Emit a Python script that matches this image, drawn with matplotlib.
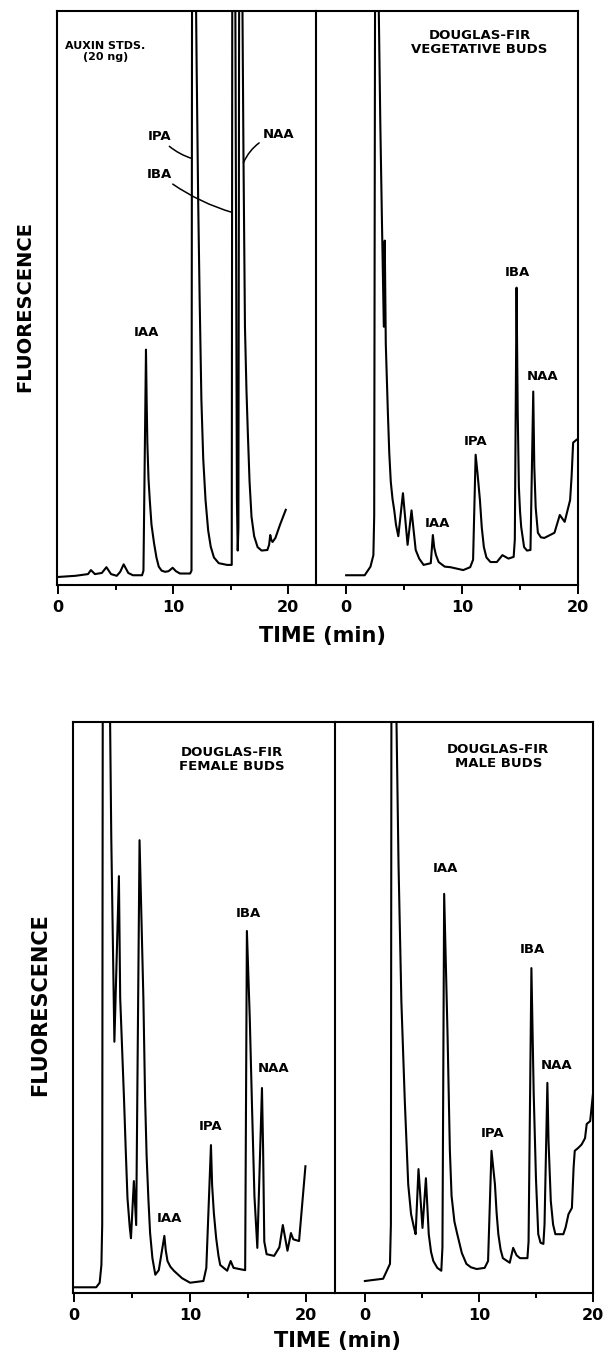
import matplotlib.pyplot as plt

# HPLC fluorescence traces.
# time in min, signal in % of recorder full scale (values > 100 ran off the chart)

std_time = [0.0, 1.5, 2.6, 2.85, 3.2, 3.8, 4.2, 4.6, 5.1, 5.4,
            5.7, 6.1, 6.5, 7.3, 7.42, 7.64, 7.7, 7.76, 7.86, 7.97,
            8.12, 8.34, 8.55, 8.75, 9.0, 9.3, 9.6, 9.96, 10.25, 10.6,
            11.48, 11.6, 11.65, 11.95, 12.05, 12.18, 12.31, 12.46, 12.62, 12.82,
            13.05, 13.27, 13.55, 13.97, 14.7, 15.1, 15.15, 15.4, 15.55, 15.62,
            15.68, 15.75, 16.0, 16.12, 16.25, 16.38, 16.5, 16.65, 16.82, 17.05,
            17.35, 17.7, 18.2, 18.35, 18.45, 18.55, 18.65, 18.9, 19.3, 19.8]
std_signal = [1.4, 1.6, 1.9, 2.6, 1.9, 2.1, 3.1, 1.9, 1.6, 2.3,
              3.6, 2.1, 1.7, 1.7, 2.5, 41, 32, 24.7, 18.5, 14.8,
              10.5, 7.3, 4.8, 3.2, 2.5, 2.3, 2.4, 3.0, 2.4, 2.0,
              2.0, 2.5, 110, 110, 90, 67, 49.7, 32.3, 22, 14.8,
              9.5, 6.7, 4.8, 3.8, 3.5, 3.5, 110, 110, 15, 6,
              10, 110, 110, 75, 45, 34, 26.5, 18, 11.9, 8.5,
              6.6, 6.0, 6.1, 7.0, 8.7, 7.8, 7.5, 8.2, 10.5, 13.1]

veg_time = [0.0, 1.6, 2.1, 2.35, 2.42, 2.5, 2.75, 2.95, 3.1, 3.25,
            3.33, 3.42, 3.6, 3.72, 3.85, 4.0, 4.15, 4.3, 4.5, 4.9,
            5.3, 5.64, 6.0, 6.3, 6.68, 7.3, 7.48, 7.6, 7.75, 7.98,
            8.5, 9.0, 10.1, 10.7, 10.95, 11.17, 11.33, 11.54, 11.7, 11.88,
            12.1, 12.45, 13.0, 13.48, 14.0, 14.45, 14.55, 14.7, 14.8, 14.9,
            15.0, 15.1, 15.35, 15.6, 15.9, 16.14, 16.23, 16.35, 16.54, 16.8,
            17.1, 17.97, 18.43, 18.85, 19.32, 19.45, 19.58, 19.87]
veg_signal = [1.7, 1.7, 3.2, 5.2, 12, 110, 110, 80, 62, 45,
              60, 42, 30, 23, 18, 15, 13, 10.5, 8.5, 16,
              7, 13, 6.1, 4.6, 3.5, 3.8, 8.7, 6.5, 5.2, 4.0,
              3.2, 3.1, 2.6, 3.1, 4.4, 22.7, 19.5, 14.8, 10, 6.6,
              4.8, 4.0, 4.0, 5.2, 4.6, 4.9, 7.9, 51.8, 30, 17.1,
              12.8, 10.1, 6.6, 6.0, 6.1, 33.7, 20.6, 13.5, 9.1, 8.3,
              8.2, 9.1, 12.2, 11.0, 14.8, 19, 24.8, 25.3]

female_time = [0.0, 1.9, 2.2, 2.35, 2.42, 2.47, 3.05, 3.2, 3.47, 3.86,
               3.97, 4.3, 4.45, 4.6, 4.8, 4.9, 5.15, 5.35, 5.64, 5.97,
               6.12, 6.25, 6.4, 6.55, 6.75, 7.0, 7.3, 7.78, 7.9, 8.05,
               8.3, 8.6, 9.3, 10.0, 11.15, 11.4, 11.8, 11.9, 12.05, 12.25,
               12.45, 12.6, 13.2, 13.5, 13.75, 14.75, 14.9, 15.15, 15.35, 15.55,
               15.8, 16.2, 16.3, 16.4, 16.6, 17.25, 17.7, 18.0, 18.4, 18.7,
               18.9, 19.4, 19.95]
female_signal = [1.0, 1.0, 1.8, 4.9, 12, 110, 110, 80, 44, 73,
                 51.7, 34, 25, 16.6, 11.4, 9.6, 19.6, 11.9, 79.3, 51.7,
                 34, 24, 16.6, 10.5, 6.1, 3.2, 4.0, 10, 7.5, 5.6,
                 4.6, 3.9, 2.6, 1.8, 2.1, 4.4, 25.9, 18.9, 14, 9.6,
                 6.5, 4.9, 3.9, 5.6, 4.4, 4.0, 63.4, 48, 32, 17,
                 7.9, 35.9, 25, 9, 6.8, 6.5, 8, 11.9, 7.4, 10.5,
                 9.4, 9.1, 22.2]

male_time = [0.0, 1.6, 2.2, 2.28, 2.33, 2.7, 2.95, 3.2, 3.5, 3.8,
             4.05, 4.3, 4.45, 4.7, 5.05, 5.35, 5.6, 5.8, 6.0, 6.35,
             6.7, 6.8, 6.95, 7.25, 7.45, 7.6, 7.85, 8.1, 8.5, 8.9,
             9.3, 9.8, 10.5, 10.8, 11.1, 11.4, 11.55, 11.7, 11.9, 12.1,
             12.7, 13.0, 13.3, 13.6, 14.25, 14.35, 14.6, 14.8, 15.0, 15.2,
             15.4, 15.65, 15.75, 16.0, 16.1, 16.3, 16.5, 16.7, 17.4, 17.6,
             17.85, 18.15, 18.3, 18.4, 18.7, 19.0, 19.3, 19.45, 19.75, 20.0]
male_signal = [2.1, 2.5, 5.1, 12, 110, 110, 75, 51, 33.6, 19,
               13.8, 11.5, 10.3, 21.7, 11.4, 20.1, 10.3, 7.2, 5.6, 4.4,
               3.9, 8, 69.9, 45, 25, 17, 12.5, 10.3, 7, 5.1,
               4.5, 4.2, 4.4, 5.6, 24.9, 19.1, 14, 10.3, 7.6, 6.1,
               5.3, 7.9, 6.6, 6.1, 6.1, 9, 56.9, 35, 20, 10.3,
               8.8, 8.6, 12, 36.8, 26.6, 16.1, 12, 10.3, 10.3, 11.5,
               13.8, 14.9, 22, 24.9, 25.4, 26, 27.1, 29.6, 30.1, 34.9]

panel_titles = ["AUXIN STDS.\n(20 ng)", "DOUGLAS-FIR\nVEGETATIVE BUDS",
                "DOUGLAS-FIR\nFEMALE BUDS", "DOUGLAS-FIR\nMALE BUDS"]
time_ticks = [0, 10, 20]
time_minor = [5, 15]

plt.rcParams["font.family"] = ["DejaVu Sans"]
plt.rcParams["font.weight"] = "bold"

W, H = 612, 1360
fig = plt.figure(figsize=(W / 100, H / 100), dpi=100)


def panel(x0, x1, y0, y1, xlim):
    ax = fig.add_axes([x0 / W, 1 - y1 / H, (x1 - x0) / W, (y1 - y0) / H])
    ax.set_xlim(*xlim)
    ax.set_ylim(0, 100)
    ax.set_yticks([])
    ax.set_xticks(time_ticks)
    ax.set_xticks(time_minor, minor=True)
    ax.tick_params(axis="x", which="major", direction="out", length=6.5,
                   width=1.4, pad=4, labelsize=11.5)
    ax.tick_params(axis="x", which="minor", direction="out", length=3.5, width=1.4)
    for s in ax.spines.values():
        s.set_linewidth(1.5)
    return ax


def trace(ax, t, y):
    ax.plot(t, y, color="black", lw=1.5, solid_joinstyle="round")


def label(ax, text, x, y, size=9.5):
    ax.text(x, y, text, ha="center", va="center", fontsize=size, fontweight="bold")


lead = dict(arrowstyle="-", lw=1.1, color="black", shrinkA=1, shrinkB=0)

# ---- top: standards and vegetative buds
ax1 = panel(57, 316, 11, 585, (-0.1, 22.43))
ax1.spines["right"].set_visible(False)
trace(ax1, std_time, std_signal)
ax1.text(4.1, 93, panel_titles[0], ha="center", va="center", fontsize=8,
         fontweight="bold", linespacing=1.1)
label(ax1, "IAA", 7.7, 44)
ax1.annotate("IPA", xy=(11.64, 74.3), xytext=(8.8, 78.2), ha="center", va="center",
             fontsize=9.5, fontweight="bold",
             arrowprops=dict(connectionstyle="arc3,rad=0.15", **lead))
ax1.annotate("IBA", xy=(15.15, 64.9), xytext=(8.8, 71.6), ha="center", va="center",
             fontsize=9.5, fontweight="bold",
             arrowprops=dict(connectionstyle="arc3,rad=0.1", **lead))
ax1.annotate("NAA", xy=(16.12, 73.6), xytext=(19.2, 78.5), ha="center", va="center",
             fontsize=9.5, fontweight="bold",
             arrowprops=dict(connectionstyle="arc3,rad=0.25", **lead))

ax2 = panel(316, 578, 11, 585, (-2.6, 20))
trace(ax2, veg_time, veg_signal)
ax2.text(11.5, 94.5, panel_titles[1], ha="center", va="center", fontsize=9.5,
         fontweight="bold", linespacing=1.1)
label(ax2, "IAA", 7.9, 10.8)
label(ax2, "IPA", 11.2, 25)
label(ax2, "IBA", 14.8, 54.5)
label(ax2, "NAA", 16.95, 36.3)

fig.text(25 / W, 1 - 306 / H, "FLUORESCENCE", rotation=90, ha="center",
         va="center", fontsize=14, fontweight="bold")
fig.text(322 / W, 1 - 636 / H, "TIME (min)", ha="center", va="center",
         fontsize=15, fontweight="bold")

# ---- bottom: female and male buds
ax3 = panel(73, 335, 722, 1293, (-0.1, 22.5))
ax3.spines["right"].set_visible(False)
trace(ax3, female_time, female_signal)
ax3.text(13.6, 93.5, panel_titles[2], ha="center", va="center", fontsize=9.5,
         fontweight="bold", linespacing=1.1)
label(ax3, "IAA", 8.25, 13.1)
label(ax3, "IPA", 11.8, 29.2)
label(ax3, "IBA", 15.05, 66.5)
label(ax3, "NAA", 17.2, 39.4)

ax4 = panel(335, 593, 722, 1293, (-2.62, 20))
trace(ax4, male_time, male_signal)
ax4.text(11.7, 94, panel_titles[3], ha="center", va="center", fontsize=9.5,
         fontweight="bold", linespacing=1.1)
label(ax4, "IAA", 7.1, 74.3)
label(ax4, "IPA", 11.2, 28)
label(ax4, "IBA", 14.7, 60.2)
label(ax4, "NAA", 16.8, 39.8)

fig.text(40 / W, 1 - 1005 / H, "FLUORESCENCE", rotation=90, ha="center",
         va="center", fontsize=15, fontweight="bold")
fig.text(337 / W, 1 - 1341 / H, "TIME (min)", ha="center", va="center",
         fontsize=15, fontweight="bold")

fig.savefig("out.png", dpi=100)
